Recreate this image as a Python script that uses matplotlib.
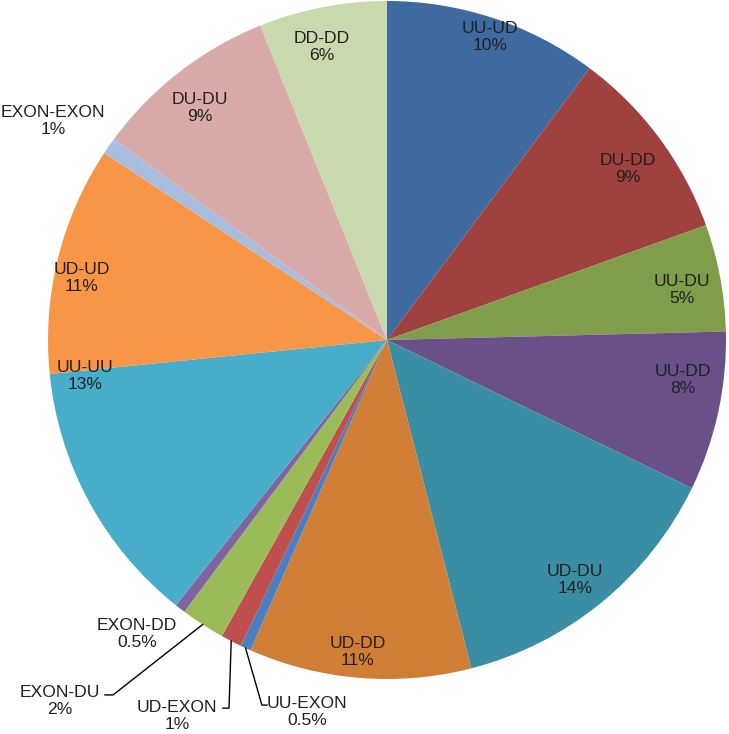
import numpy as np
import matplotlib
matplotlib.use("Agg")
import matplotlib.pyplot as plt

# ── Data (clockwise from 12 o'clock) ────────────────────────────────
names = ["UU-UD", "DU-DD", "UU-DU", "UU-DD", "UD-DU", "UD-DD", "UU-EXON",
         "UD-EXON", "EXON-DU", "EXON-DD", "UU-UU", "UD-UD", "EXON-EXON",
         "DU-DU", "DD-DD"]
values = [10.2, 9.3, 5.1, 7.6, 13.8, 10.6, 0.5, 1.0, 2.1, 0.5, 12.7, 10.9,
          0.8, 8.8, 6.1]
pct_labels = ["10%", "9%", "5%", "8%", "14%", "11%", "0.5%", "1%", "2%",
              "0.5%", "13%", "11%", "1%", "9%", "6%"]

colors = ["#3E6A9F", "#9F413E", "#809D4B", "#6A5089", "#3A8EA3", "#D07D36",
          "#4A7FC1", "#C0504D", "#9BBB59", "#8064A2", "#47ADC8", "#F79646",
          "#A9BEDE", "#D8AAA9", "#C8D9AE"]

# label centres in units of the pie radius (layout only)
label_pos = {
    "UU-UD": (0.304, 0.894), "DU-DD": (0.711, 0.504), "UU-DU": (0.870, 0.147),
    "UU-DD": (0.873, -0.118), "UD-DU": (0.555, -0.708), "UD-DD": (-0.086, -0.920),
    "UU-UU": (-0.891, -0.106), "UD-UD": (-0.900, 0.183), "DU-DU": (-0.552, 0.684),
    "DD-DD": (-0.192, 0.864), "EXON-EXON": (-0.985, 0.646),
    "EXON-DD": (-0.737, -0.867), "EXON-DU": (-0.965, -1.065),
    "UD-EXON": (-0.619, -1.108), "UU-EXON": (-0.236, -1.097),
}
# leader lines: elbow point then end point
leaders = {
    "EXON-DU": [(-0.808, -1.047), (-0.832, -1.047)],
    "UD-EXON": [(-0.466, -1.086), (-0.484, -1.086)],
    "UU-EXON": [(-0.369, -1.077), (-0.354, -1.077)],
}

fig = plt.figure(figsize=(7.29, 7.34), dpi=100)
ax = fig.add_axes([0, 0, 1, 1])

wedges, _ = ax.pie(values, colors=colors, startangle=90, counterclock=False,
                   radius=1.0, wedgeprops=dict(linewidth=0))

ax.set_xlim(-387 / 339, (729 - 387) / 339)
ax.set_ylim(-(734 - 340) / 339, 340 / 339)
ax.set_aspect("auto")
ax.axis("off")

txt_color = "#231F20"
for w, name, pct in zip(wedges, names, pct_labels):
    x, y = label_pos[name]
    ax.text(x, y, f"{name}\n{pct}", ha="center", va="center",
            fontsize=12.6, color=txt_color, family="Liberation Sans",
            linespacing=1.15)
    if name in leaders:
        mid = np.deg2rad((w.theta1 + w.theta2) / 2)
        sx, sy = np.cos(mid), np.sin(mid)
        pts = [(sx, sy)] + leaders[name]
        ax.plot([p[0] for p in pts], [p[1] for p in pts], color="black",
                lw=1.0)

fig.savefig("out.png", dpi=100)
